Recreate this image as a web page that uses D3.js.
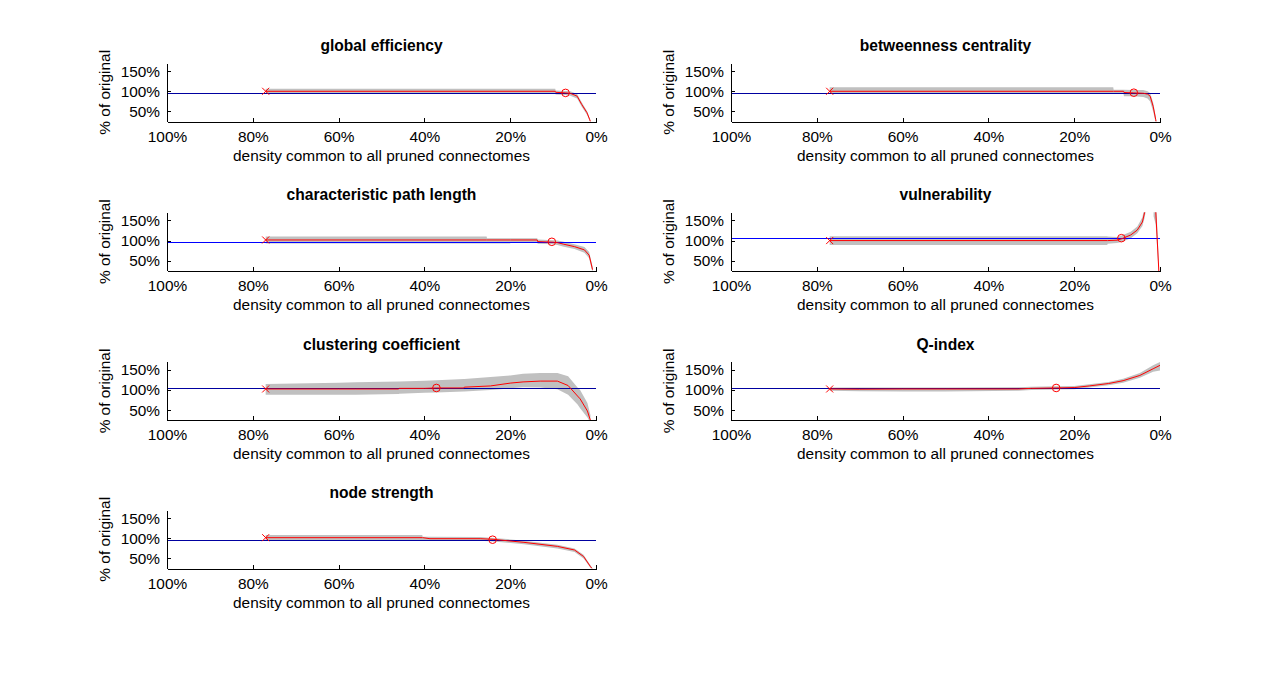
<!DOCTYPE html>
<html>
<head>
<meta charset="utf-8">
<script src="https://cdn.jsdelivr.net/npm/d3@7"></script>
<style>
  body { margin: 0; background: #fff; }
  svg text { font-family: "Liberation Sans", Arial, sans-serif; fill: #000; }
  .tick text { font-size: 15.4px; }
  .title { font-size: 15.6px; font-weight: bold; }
  .lab { font-size: 15.4px; }
</style>
</head>
<body>
<svg id="chart" width="1280" height="679"></svg>
<script>
// rows: [density %, mean %, lower %, upper %] ; null mean = break
const geData = [
  [77, 100, 94, 106.5], [9.5, 100, 94, 106.5], [9.4, 97.5, 92, 102], [7.1, 96, 91, 101],
  [6.0, 95, 89, 100], [4.4, 88, 82, 93], [3.3, 67, 61, 72], [2.1, 47, 42, 51],
  [1.5, 31, 27, 34], [1.3, 25, 22, 28]
];
const bcData = [
  [77, 100, 93, 110], [10.9, 100, 93, 110], [10.8, 100, 93, 104], [8.5, 100, 93, 104],
  [8.4, 97, 88, 104], [6.1, 96, 88, 103], [3.9, 95, 86, 103], [2.9, 93, 82, 100],
  [2.3, 88, 75, 96], [1.6, 63, 50, 72], [1.0, 30, 22, 38], [0.9, 25, 20, 30]
];
const cplData = [
  [77, 101.5, 93, 110], [25.5, 101.5, 93, 110], [25.4, 101.5, 93, 106], [20, 101.5, 93, 106],
  [19.9, 101.5, 95, 106], [13.7, 101.5, 95, 106], [13.6, 97.5, 92, 103], [10, 96, 91, 101],
  [9, 95, 89, 100], [7.5, 91, 85, 97], [5, 85, 79, 91], [2.7, 77, 70, 84],
  [1.6, 64, 56, 72], [0.8, 28, 20, 36]
];
const vuData = [
  [77, 100, 89, 111], [12.3, 100, 89, 111], [12.2, 100, 92, 110], [10, 101, 94, 109],
  [8.8, 105, 97, 113], [6.8, 114, 106, 122], [5.3, 126, 118, 135], [4.1, 146, 136, 158],
  [3.6, 169, 156, 185], [3.0, 210, 190, 240], [2.0, null, null, null],
  [1.5, 400, 160, 600], [1.0, 175, 140, 220], [0.25, 20, 10, 40]
];
const ccData = [
  [77, 102.5, 88, 115], [60, 102.5, 88, 118], [56, 102.5, 88, 119], [46, 102.5, 90, 121],
  [45.9, 104, 91, 121], [40, 104, 93, 123], [37.2, 105, 94, 124], [30.8, 105, 96, 127],
  [30.7, 107, 96, 127], [24.6, 110, 100, 132], [20, 117, 104, 136], [17, 120, 107, 140],
  [13, 122, 106, 142], [9, 122, 102, 142], [6.5, 111, 88, 134], [4.3, 85, 64, 106],
  [3.7, 78, 55, 100], [2, 48, 32, 68], [1.3, 25, 18, 38]
];
const qData = [
  [77, 102.5, 98, 106], [70, 102, 97, 106], [60, 102.5, 96, 106], [50, 102.5, 96, 106],
  [33, 102.5, 98, 107], [30, 104, 100, 108], [24.2, 105, 101, 109], [20, 106, 102, 110],
  [16.5, 110, 106, 114], [12, 116, 112, 120], [8.6, 123, 118, 128], [4.7, 136, 130, 142],
  [1.6, 152.5, 145, 161], [0, 161, 148, 169]
];
const nsData = [
  [77, 101.5, 96, 108], [40.5, 101.5, 96, 108], [40.4, 101.5, 96, 104], [38.7, 99, 94, 104],
  [27, 99, 94, 103], [24, 97.5, 92, 101], [20.7, 94, 89, 98], [16.8, 90, 85, 94],
  [9, 80, 75, 84], [5, 71, 66, 75], [2.9, 55, 50, 59], [1.3, 30, 27, 33], [0.9, 25, 22, 28]
];

const titles = ["global efficiency", "betweenness centrality", "characteristic path length",
  "vulnerability", "clustering coefficient", "Q-index", "node strength"];
const series = [geData, bcData, cplData, vuData, ccData, qData, nsData];
const refLevels = [96, 96.5, 97, 106, 105, 105, 96.5];
const circleDensity = [7.1, 6.1, 10.3, 9.0, 37.2, 24.2, 24.1];
const xTicks = [100, 80, 60, 40, 20, 0];
const yTicks = [50, 100, 150];
const xDomain = [100, 0];
const yDomain = [25, 170];

// styling / layout
const refColors = ["#0000a0", "#0000a0", "#0000ff", "#0000ff", "#0000a0", "#0000a0", "#0000a0"];
const colLeft = [167, 731];
const plotW = 429;
const rowTop = [63, 212.3, 361.7, 510];
const plotH = 58.6;

const svg = d3.select("#chart");
const x = d3.scaleLinear().domain(xDomain).range([0, plotW]);
const y = d3.scaleLinear().domain(yDomain).range([plotH, 0]);

const toRow = r => ({ d: r[0], mean: r[1], lo: r[2], hi: r[3] });

const band = d3.area()
  .defined(d => d.mean != null)
  .x(d => x(d.d)).y0(d => y(d.lo)).y1(d => y(d.hi));
const line = d3.line()
  .defined(d => d.mean != null)
  .x(d => x(d.d)).y(d => y(d.mean));

series.forEach((raw, i) => {
  const rows = raw.map(toRow);
  const g = svg.append("g")
    .attr("transform", `translate(${colLeft[i % 2]},${rowTop[Math.floor(i / 2)]})`);

  g.append("clipPath").attr("id", `clip-${i}`)
    .append("rect").attr("width", plotW).attr("height", plotH);
  const plot = g.append("g").attr("clip-path", `url(#clip-${i})`);

  plot.append("path").attr("d", band(rows)).attr("fill", "#c0c0c0");
  const ry = Math.round(y(refLevels[i]) + rowTop[Math.floor(i / 2)]) - rowTop[Math.floor(i / 2)] + 0.5;
  plot.append("line")
    .attr("x1", 0).attr("x2", plotW)
    .attr("y1", ry).attr("y2", ry)
    .attr("stroke", refColors[i]).attr("stroke-width", 1)
    .attr("shape-rendering", "crispEdges");
  plot.append("path").attr("d", line(rows))
    .attr("fill", "none").attr("stroke", "#ff0000").attr("stroke-width", 1);

  // start marker (x) and crossing marker (o)
  const s = rows[0];
  const sx = x(s.d), sy = y(s.mean), k = 3.5;
  g.append("path")
    .attr("d", `M${sx - k},${sy - k}L${sx + k},${sy + k}M${sx - k},${sy + k}L${sx + k},${sy - k}`)
    .attr("stroke", "#ff0000").attr("stroke-width", 1);
  g.append("circle")
    .attr("cx", x(circleDensity[i])).attr("cy", y(refLevels[i])).attr("r", 3.8)
    .attr("fill", "none").attr("stroke", "#ff0000").attr("stroke-width", 1);

  // axes
  g.append("g").attr("transform", `translate(0,${plotH})`)
    .call(d3.axisBottom(x).tickValues(xTicks).tickFormat(d => d + "%")
      .tickSizeInner(-4).tickSizeOuter(0).tickPadding(9));
  g.append("g")
    .call(d3.axisLeft(y).tickValues(yTicks).tickFormat(d => d + "%")
      .tickSizeInner(-4).tickSizeOuter(0).tickPadding(7));
  g.selectAll(".domain, .tick line").attr("stroke", "#000").attr("shape-rendering", "crispEdges");
  g.selectAll(".tick text").attr("fill", "#000");

  g.append("text").attr("class", "title")
    .attr("x", plotW / 2).attr("y", -12).attr("text-anchor", "middle")
    .text(titles[i]);
  g.append("text").attr("class", "lab")
    .attr("x", plotW / 2).attr("y", plotH + 39).attr("text-anchor", "middle")
    .text("density common to all pruned connectomes");
  g.append("text").attr("class", "lab")
    .attr("transform", `translate(-57,${plotH / 2}) rotate(-90)`)
    .attr("text-anchor", "middle")
    .text("% of original");
});
</script>
</body>
</html>
